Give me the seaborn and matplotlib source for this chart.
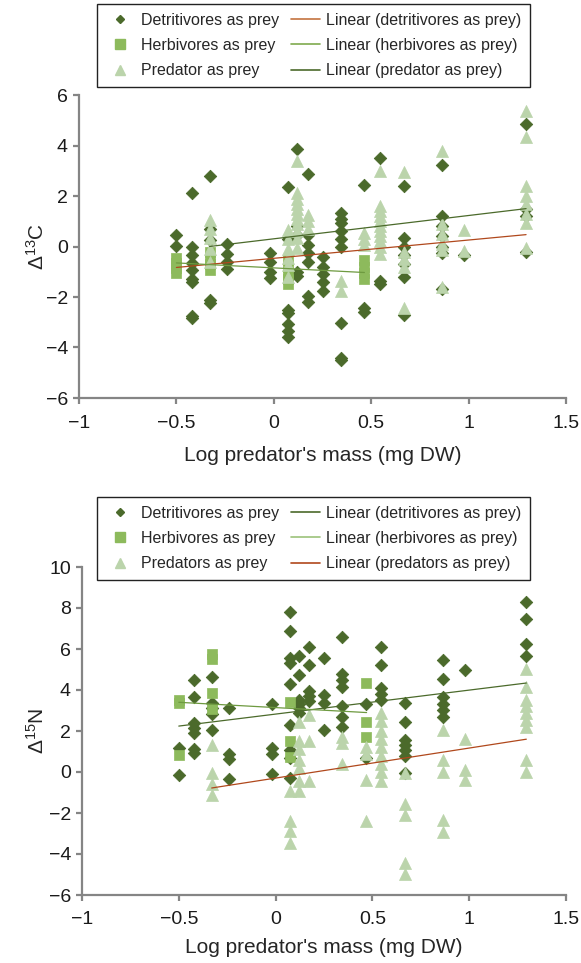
import pandas as pd
import seaborn as sns
import matplotlib.pyplot as plt
from matplotlib.lines import Line2D

# log predator mass columns (shared by both panels)
mass = [-0.5, -0.42, -0.33, -0.24, -0.02, 0.075, 0.12, 0.175, 0.25, 0.345,
        0.465, 0.545, 0.667, 0.863, 0.977, 1.295]

# %% delta 13C, one list of values per mass column
det_c13 = [[0.45, 0.02], [2.1, 0.0, -0.35, -0.65, -0.95, -1.3, -1.4, -2.75, -2.85],
           [2.78, 0.69, 0.26, -2.1, -2.25], [0.1, -0.3, -0.62, -0.88],
           [-0.24, -0.63, -1.0, -1.25], [2.35, 0.28, -2.5, -2.65, -3.05, -3.35, -3.6],
           [3.85, 0.8, 0.45, -1.0, -1.15], [2.87, 0.46, 0.06, -0.27, -0.6, -1.98, -2.18],
           [-0.4, -0.8, -1.1, -1.4, -1.77], [1.33, 1.1, 0.95, 0.6, 0.3, 0.0, -3.03, -4.4, -4.5],
           [2.43, -2.45, -2.6], [3.5, -1.37, -1.5], [2.4, 0.35, 0.0, -0.35, -0.7, -1.2, -2.7],
           [3.22, 1.2, 0.8, 0.4, 0.0, -0.25, -1.7], [-0.33], [4.85, 1.5, 1.2, -0.2]]
herb_c13 = [[-0.45, -0.65, -0.85, -1.05], [], [-0.2, -0.45, -0.7, -0.95], [], [],
            [-0.55, -0.8, -1.05, -1.3, -1.5], [], [], [], [],
            [-0.55, -0.8, -1.05, -1.3], [], [], [], [], []]
pred_c13 = [[], [], [1.05, 0.7, 0.35, -0.1, -0.6], [], [],
            [0.65, 0.3, -0.1, -0.45, -0.75, -1.2],
            [3.4, 2.1, 1.9, 1.7, 1.5, 1.3, 1.1, 0.9, 0.6, 0.35, -0.05],
            [1.25, 1.0, 0.7], [], [-1.35, -1.75], [0.55, 0.3, 0.05],
            [3.0, 1.6, 1.4, 1.2, 1.0, 0.8, 0.6, 0.4, 0.2, 0.0, -0.3],
            [2.95, -0.2, -0.5, -0.8, -2.45], [3.8, 0.9, 0.5, 0.1, -0.15, -1.6],
            [0.67, -0.19], [5.35, 4.35, 2.4, 2.0, 1.7, 1.3, 0.95, -0.05]]
# trend line end points (x range, fitted y)
det_c13_fit = ([-0.5, 1.295], [-0.83, 0.47])
herb_c13_fit = ([-0.5, 0.465], [-0.65, -1.03])
pred_c13_fit = ([-0.33, 1.295], [0.0, 1.5])

# %% delta 15N
det_n15 = [[1.17, -0.15], [4.5, 3.65, 2.4, 2.15, 1.9, 1.1, 0.95], [4.65, 3.35, 3.1, 2.85, 2.05],
           [3.12, 0.9, 0.65, -0.35], [3.3, 1.15, 0.9, -0.1],
           [7.8, 6.9, 5.55, 5.3, 4.3, 2.3, 1.05, 0.7, -0.3], [5.65, 4.75, 3.5, 3.3, 3.1, 2.9],
           [6.1, 5.2, 3.95, 3.7, 3.45], [5.55, 3.75, 3.35, 2.05],
           [6.6, 4.8, 4.5, 4.15, 3.2, 2.7, 2.2], [3.3, 0.7], [6.1, 5.2, 4.1, 3.8, 3.5],
           [3.35, 2.45, 1.55, 1.3, 1.05, 0.8, -0.05], [5.45, 4.55, 3.65, 3.3, 3.0, 2.7],
           [4.98], [8.3, 7.45, 6.25, 5.65]]
herb_n15 = [[3.5, 3.35, 0.85], [], [5.75, 5.5, 3.85, 3.05], [], [], [3.4, 1.5, 0.75],
            [], [], [], [], [4.35, 2.45, 1.7], [], [], [], [], []]
pred_n15 = [[], [], [1.3, -0.05, -0.6, -1.1], [], [], [-0.95, -2.4, -2.9, -3.45],
            [2.45, 1.5, 1.1, 0.6, 0.2, -0.45, -0.95], [2.8, 1.5, -0.45], [],
            [1.7, 1.4, 0.4], [1.2, 0.9, -0.4, -2.4],
            [2.9, 2.5, 2.0, 1.6, 1.2, 0.8, 0.4, 0.0, -0.45],
            [-0.05, -1.55, -2.1, -4.45, -5.0], [2.05, 0.6, 0.0, -2.35, -2.95],
            [1.6, 0.1, -0.4], [5.0, 4.15, 3.5, 3.2, 2.9, 2.55, 2.2, 0.6, 0.0]]
det_n15_fit = ([-0.5, 1.295], [2.24, 4.34])
herb_n15_fit = ([-0.5, 0.47], [3.4, 2.9])
pred_n15_fit = ([-0.33, 1.295], [-0.78, 1.6])

DET = '#4B6A2B'
HERB = '#8DBA5C'
PRED = '#BBD4AB'
ORANGE = '#B0481C'
MIDGREEN = '#6E9A40'
DARKLINE = '#4B6A2B'
GREY = '#858585'

sns.set_theme(style='ticks')
plt.rcParams['font.family'] = ['Liberation Sans', 'DejaVu Sans']
plt.rcParams['mathtext.fontset'] = 'custom'
plt.rcParams['mathtext.rm'] = 'Liberation Sans'
plt.rcParams['mathtext.it'] = 'Liberation Sans:italic'


def to_frame(cols):
    rows = [(mass[i], v) for i, ys in enumerate(cols) for v in ys]
    return pd.DataFrame(rows, columns=['mass', 'delta'])


def panel(ax, det, herb, pred, fits, fit_colors, ylim, yticks, ylabel, xpad, lpad):
    sns.scatterplot(data=to_frame(det), x='mass', y='delta', marker='D', s=40,
                    color=DET, edgecolor=DET, linewidth=0.6, ax=ax, zorder=2)
    sns.scatterplot(data=to_frame(herb), x='mass', y='delta', marker='s', s=58,
                    color=HERB, edgecolor=HERB, linewidth=0.5, ax=ax, zorder=3)
    sns.scatterplot(data=to_frame(pred), x='mass', y='delta', marker='^', s=75,
                    color=PRED, edgecolor=PRED, linewidth=0.5, ax=ax, zorder=4)
    for (fx, fy), c in zip(fits, fit_colors):
        sns.lineplot(x=fx, y=fy, color=c, linewidth=0.9, ax=ax, sort=False,
                     estimator=None, zorder=5)
    ax.set_xlim(-1, 1.5)
    ax.set_ylim(*ylim)
    ax.set_xticks([-1, -0.5, 0, 0.5, 1, 1.5])
    ax.set_xticklabels(['\u22121', '\u22120.5', '0', '0.5', '1', '1.5'])
    ax.set_yticks(yticks)
    ax.set_yticklabels([str(t).replace('-', '\u2212') for t in yticks])
    sns.despine(ax=ax)
    for sp in ['left', 'bottom']:
        ax.spines[sp].set_color(GREY)
        ax.spines[sp].set_linewidth(1.6)
    ax.tick_params(length=4, width=1.6, color=GREY, labelsize=14, labelcolor='#1a1a1a')
    ax.tick_params(axis='x', pad=xpad)
    ax.tick_params(axis='y', pad=4)
    ax.set_xlabel("Log predator's mass (mg DW)", fontsize=15, labelpad=lpad)
    ax.set_ylabel(ylabel, fontsize=15)


def add_legend(names, line_names, line_colors, top_px):
    handles = [
        Line2D([], [], ls='none', marker='D', ms=4.2, color=DET),
        Line2D([], [], ls='none', marker='s', ms=6.5, color=HERB),
        Line2D([], [], ls='none', marker='^', ms=7, color=PRED),
    ] + [Line2D([], [], color=c, lw=1.2) for c in line_colors]
    h = 82 / 963
    fig.legend(handles, names + line_names, ncol=2, loc='upper left', mode='expand',
               bbox_to_anchor=(97 / 581, 1 - top_px / 963 - h, 433 / 581, h),
               fontsize=11.5, frameon=True, fancybox=False, edgecolor='#222222',
               framealpha=1, handlelength=1.8, handletextpad=0.4, labelspacing=0.64,
               borderpad=0.55, columnspacing=0.8, borderaxespad=0)


fig = plt.figure(figsize=(5.81, 9.63), dpi=100)
ax1 = fig.add_axes([79 / 581, 1 - 398 / 963, 487 / 581, 303 / 963])
ax2 = fig.add_axes([82 / 581, 1 - 895 / 963, 484 / 581, 328 / 963])

panel(ax1, det_c13, herb_c13, pred_c13, [det_c13_fit, herb_c13_fit, pred_c13_fit],
      [ORANGE, MIDGREEN, DARKLINE], (-6, 6), list(range(-6, 7, 2)), r'$\Delta^{13}$C',
      8.5, 10)
panel(ax2, det_n15, herb_n15, pred_n15, [det_n15_fit, herb_n15_fit, pred_n15_fit],
      [DARKLINE, MIDGREEN, ORANGE], (-6, 10), list(range(-6, 11, 2)), r'$\Delta^{15}$N',
      7.5, 7.5)
ax1.yaxis.set_label_coords(-0.064, 0.5)
ax2.yaxis.set_label_coords(-0.07, 0.5)

add_legend(['Detritivores as prey', 'Herbivores as prey', 'Predator as prey'],
           ['Linear (detritivores as prey)', 'Linear (herbivores as prey)',
            'Linear (predator as prey)'], ['#C4733F', '#7FAA4E', DARKLINE], 4)
add_legend(['Detritivores as prey', 'Herbivores as prey', 'Predators as prey'],
           ['Linear (detritivores as prey)', 'Linear (herbivores as prey)',
            'Linear (predators as prey)'], [DARKLINE, '#9CC27A', ORANGE], 497)

fig.savefig('out.png', dpi=100, facecolor='white')
